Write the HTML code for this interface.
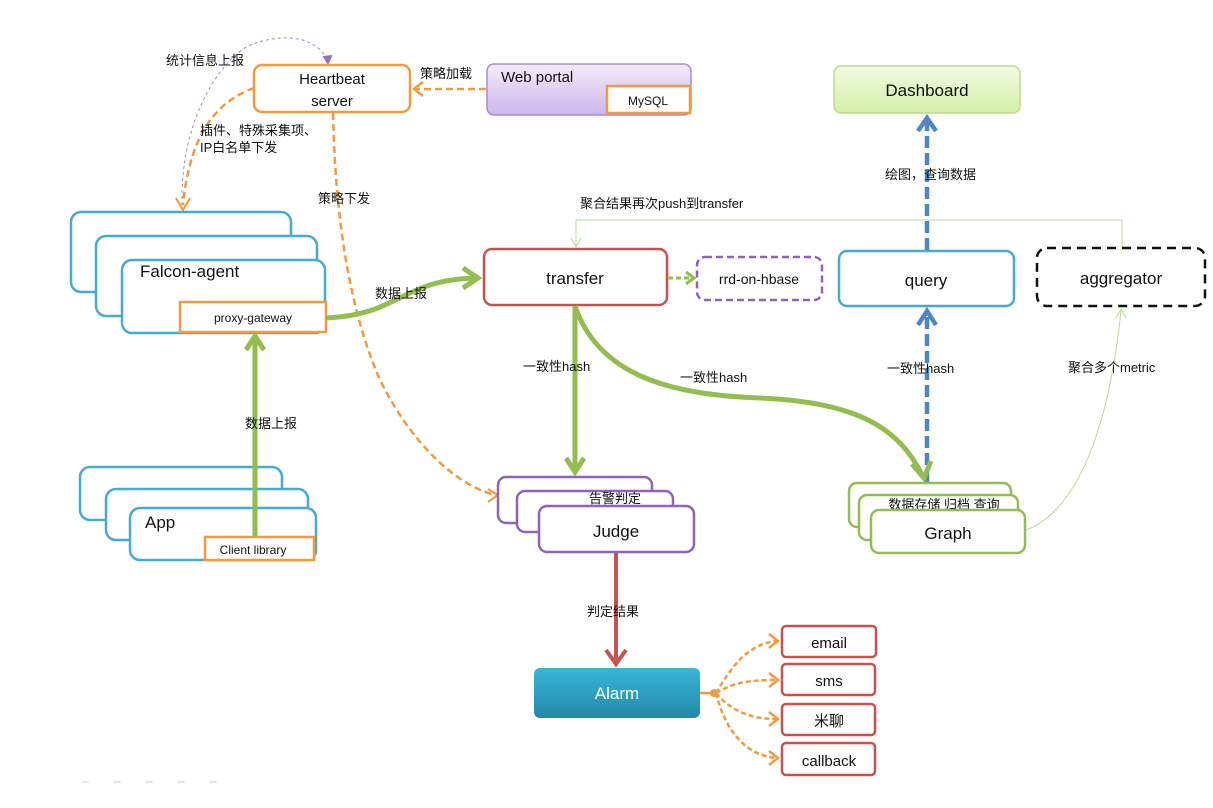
<!DOCTYPE html>
<html><head><meta charset="utf-8"><style>
html,body{margin:0;padding:0;background:#fff;}
svg{display:block;}
text{font-family:"Liberation Sans","Noto Sans CJK SC",sans-serif;fill:#111;}
.s{font-size:13px;}
</style></head><body>
<svg width="1213" height="808" viewBox="0 0 1213 808" xmlns="http://www.w3.org/2000/svg">
<defs>
<linearGradient id="wp" x1="0" y1="0" x2="0" y2="1"><stop offset="0" stop-color="#f3ecfb"/><stop offset="1" stop-color="#cdb6ec"/></linearGradient>
<linearGradient id="db" x1="0" y1="0" x2="0" y2="1"><stop offset="0" stop-color="#f2fbe4"/><stop offset="1" stop-color="#d3f0a6"/></linearGradient>
<linearGradient id="al" x1="0" y1="0" x2="0" y2="1"><stop offset="0" stop-color="#38b6d8"/><stop offset="1" stop-color="#2389a8"/></linearGradient>
</defs>

<!-- purple thin dashed curve 统计信息上报 -->
<path d="M182,205 C180,120 220,60 250,45 C290,30 320,40 328,62" fill="none" stroke="#9b86c9" stroke-width="1" stroke-dasharray="3,3"/>
<path d="M323,56 L328,64 L332,55" fill="#8e72c4" stroke="#8e72c4"/>

<!-- Heartbeat -->
<rect x="254" y="65" width="156" height="47" rx="8" fill="#fff" stroke="#f39a3c" stroke-width="2.5"/>
<text x="332" y="84" text-anchor="middle" font-size="15">Heartbeat</text>
<text x="332" y="106" text-anchor="middle" font-size="15">server</text>

<!-- Web portal -->
<rect x="487" y="64" width="204" height="51" rx="7" fill="url(#wp)" stroke="#a68dd4" stroke-width="1.5"/>
<text x="501" y="82" font-size="15">Web portal</text>
<rect x="607" y="86" width="83" height="27" fill="#fff" stroke="#f39a3c" stroke-width="2.5"/>
<text x="648" y="105" text-anchor="middle" font-size="12">MySQL</text>
<path d="M486,89 L416,89" stroke="#f39a3c" stroke-width="2.5" stroke-dasharray="7,4" fill="none"/>
<path d="M423,82 L414,89 L423,96" stroke="#f39a3c" stroke-width="2.5" fill="none"/>
<text x="420" y="78" class="s">策略加载</text>

<!-- heartbeat -> agent -->
<path d="M254,88 C220,100 190,130 183,205" stroke="#f39a3c" stroke-width="2.5" stroke-dasharray="7,4" fill="none"/>
<path d="M176,198 L183,210 L190,198" stroke="#f39a3c" stroke-width="2" fill="none"/>
<text x="166" y="65" class="s">统计信息上报</text>
<text x="200" y="135" class="s">插件、特殊采集项、</text>
<text x="200" y="152" class="s">IP白名单下发</text>

<!-- heartbeat -> judge -->
<path d="M333,113 C335,200 345,300 380,380 C420,460 470,490 496,495" stroke="#f39a3c" stroke-width="2.5" stroke-dasharray="7,4" fill="none"/>
<path d="M488,489 L498,495 L488,502" stroke="#f39a3c" stroke-width="2" fill="none"/>
<text x="318" y="203" class="s">策略下发</text>

<!-- Falcon agent stack -->
<rect x="71" y="212" width="220" height="80" rx="10" fill="#fff" stroke="#45acd0" stroke-width="2.5"/>
<rect x="96" y="236" width="221" height="80" rx="10" fill="#fff" stroke="#45acd0" stroke-width="2.5"/>
<rect x="122" y="260" width="203" height="73" rx="10" fill="#fff" stroke="#45acd0" stroke-width="2.5"/>
<text x="140" y="277" font-size="17">Falcon-agent</text>
<rect x="180" y="302" width="146" height="30" fill="#fff" stroke="#f39a3c" stroke-width="2.5"/>
<text x="253" y="322" text-anchor="middle" font-size="12">proxy-gateway</text>

<!-- App stack -->
<rect x="80" y="467" width="202" height="53" rx="10" fill="#fff" stroke="#45acd0" stroke-width="2.5"/>
<rect x="106" y="489" width="202" height="51" rx="10" fill="#fff" stroke="#45acd0" stroke-width="2.5"/>
<rect x="130" y="508" width="186" height="52" rx="10" fill="#fff" stroke="#45acd0" stroke-width="2.5"/>
<text x="145" y="528" font-size="17">App</text>
<rect x="205" y="537" width="109" height="23" fill="#fff" stroke="#f39a3c" stroke-width="2.5"/>
<text x="253" y="554" text-anchor="middle" font-size="12">Client library</text>

<!-- app -> proxy -->
<path d="M255,537 L255,340" stroke="#93bd4f" stroke-width="5" fill="none"/>
<path d="M246,350 L255,336 L264,350" stroke="#93bd4f" stroke-width="5" fill="none"/>
<text x="245" y="428" class="s">数据上报</text>

<!-- proxy -> transfer -->
<path d="M326,318 C400,315 400,280 476,278" stroke="#93bd4f" stroke-width="5" fill="none"/>
<path d="M463,268 L478,278 L463,288" stroke="#93bd4f" stroke-width="5" fill="none"/>
<text x="375" y="298" class="s">数据上报</text>

<!-- transfer -->
<rect x="484" y="249" width="183" height="56" rx="8" fill="#fff" stroke="#c9524e" stroke-width="2.5"/>
<text x="575" y="284" text-anchor="middle" font-size="17">transfer</text>

<path d="M668,278 L690,278" stroke="#93bd4f" stroke-width="3" stroke-dasharray="5,3" fill="none"/>
<path d="M686,272 L694,278 L686,284" stroke="#93bd4f" stroke-width="3" fill="none"/>
<rect x="697" y="257" width="125" height="43" rx="8" fill="#fff" stroke="#8f63bb" stroke-width="2.5" stroke-dasharray="7,4"/>
<text x="759" y="284" text-anchor="middle" font-size="14">rrd-on-hbase</text>

<!-- aggregator feedback line -->
<path d="M1122,248 L1122,220 L576,220 L576,245" stroke="#b9d99a" stroke-width="1" fill="none"/>
<path d="M571,238 L576,247 L581,238" stroke="#b9d99a" stroke-width="1" fill="none"/>
<text x="580" y="208" class="s">聚合结果再次push到transfer</text>

<!-- query -->
<rect x="839" y="251" width="175" height="55" rx="8" fill="#fff" stroke="#45acd0" stroke-width="2.5"/>
<text x="926" y="286" text-anchor="middle" font-size="17">query</text>

<!-- aggregator -->
<rect x="1037" y="248" width="168" height="58" rx="10" fill="#fff" stroke="#111" stroke-width="2.5" stroke-dasharray="9,6"/>
<text x="1121" y="284" text-anchor="middle" font-size="17">aggregator</text>

<!-- Dashboard -->
<rect x="834" y="66" width="186" height="47" rx="7" fill="url(#db)" stroke="#bcdb8c" stroke-width="1.5"/>
<text x="927" y="96" text-anchor="middle" font-size="17">Dashboard</text>

<!-- query -> dashboard -->
<path d="M927,250 L927,122" stroke="#4f86c6" stroke-width="4.5" stroke-dasharray="12,5" fill="none"/>
<path d="M918,131 L927,118 L936,131" stroke="#4f86c6" stroke-width="4.5" fill="none"/>
<text x="885" y="179" class="s">绘图，查询数据</text>

<!-- graph -> query -->
<path d="M927,482 L927,315" stroke="#4f86c6" stroke-width="4.5" stroke-dasharray="12,5" fill="none"/>
<path d="M918,325 L927,311 L936,325" stroke="#4f86c6" stroke-width="4.5" fill="none"/>
<text x="887" y="373" class="s">一致性hash</text>

<!-- transfer -> judge -->
<path d="M575,306 L575,468" stroke="#93bd4f" stroke-width="5" fill="none"/>
<path d="M566,458 L575,472 L584,458" stroke="#93bd4f" stroke-width="5" fill="none"/>
<text x="523" y="371" class="s">一致性hash</text>

<!-- transfer -> graph -->
<path d="M575,306 C600,380 680,395 760,398 C860,402 900,430 922,475" stroke="#93bd4f" stroke-width="5" fill="none"/>
<path d="M912,464 L924,478 L931,461" stroke="#93bd4f" stroke-width="5" fill="none"/>
<text x="680" y="382" class="s">一致性hash</text>

<!-- graph -> aggregator -->
<path d="M1026,530 C1080,510 1110,420 1121,310" stroke="#b9d99a" stroke-width="1" fill="none"/>
<path d="M1116,318 L1121,309 L1126,318" stroke="#b9d99a" stroke-width="1" fill="none"/>
<text x="1068" y="372" class="s">聚合多个metric</text>

<!-- Judge stack -->
<rect x="498" y="477" width="154" height="46" rx="8" fill="#fff" stroke="#8f63bb" stroke-width="2.5"/>
<rect x="517" y="491" width="156" height="41" rx="8" fill="#fff" stroke="#8f63bb" stroke-width="2.5"/>
<text x="615" y="503" text-anchor="middle" class="s">告警判定</text>
<rect x="539" y="506" width="155" height="46" rx="8" fill="#fff" stroke="#8f63bb" stroke-width="2.5"/>
<text x="616" y="537" text-anchor="middle" font-size="17">Judge</text>

<!-- Graph stack -->
<rect x="849" y="483" width="162" height="44" rx="8" fill="#fff" stroke="#93bd4f" stroke-width="2.5"/>
<rect x="859" y="495" width="159" height="45" rx="8" fill="#fff" stroke="#93bd4f" stroke-width="2.5"/>
<text x="944" y="509" text-anchor="middle" class="s">数据存储 归档 查询</text>
<rect x="871" y="510" width="154" height="43" rx="8" fill="#fff" stroke="#93bd4f" stroke-width="2.5"/>
<text x="948" y="539" text-anchor="middle" font-size="17">Graph</text>

<!-- judge -> alarm -->
<path d="M616,553 L616,660" stroke="#c9524e" stroke-width="4" fill="none"/>
<path d="M606,650 L616,664 L626,650" stroke="#c9524e" stroke-width="4" fill="none"/>
<text x="587" y="616" class="s">判定结果</text>

<!-- Alarm -->
<rect x="534" y="668" width="166" height="50" rx="6" fill="url(#al)"/>
<text x="617" y="699" text-anchor="middle" font-size="17" style="fill:#fff">Alarm</text>

<!-- alarm fanout -->
<g stroke="#f39a3c" stroke-width="2.5" fill="none">
<path d="M700,693 L716,693" />
<path d="M716,693 C730,670 745,645 776,641" stroke-dasharray="5,3"/>
<path d="M716,693 C735,682 750,680 776,680" stroke-dasharray="5,3"/>
<path d="M716,693 C730,710 750,719 776,719" stroke-dasharray="5,3"/>
<path d="M716,693 C725,730 745,755 776,758" stroke-dasharray="5,3"/>
<path d="M769,634 L778,641 L769,648"/>
<path d="M769,673 L778,680 L769,687"/>
<path d="M769,712 L778,719 L769,726"/>
<path d="M769,751 L778,758 L769,765"/>
</g>
<circle cx="714" cy="693" r="4" fill="#f39a3c"/>
<g fill="#fff" stroke="#c9524e" stroke-width="2.5">
<rect x="782" y="626" width="94" height="31" rx="4"/>
<rect x="782" y="664" width="93" height="31" rx="4"/>
<rect x="782" y="704" width="93" height="31" rx="4"/>
<rect x="782" y="743" width="93" height="32" rx="4"/>
</g>
<text x="829" y="648" text-anchor="middle" font-size="15">email</text>
<text x="829" y="686" text-anchor="middle" font-size="15">sms</text>
<text x="829" y="726" text-anchor="middle" font-size="15">米聊</text>
<text x="829" y="766" text-anchor="middle" font-size="15">callback</text>

<!-- faint dashes bottom left -->
<g stroke="#ddd" stroke-width="1.5">
<path d="M82,782 L89,782 M113,782 L121,782 M145,782 L153,782 M177,782 L185,782 M209,782 L217,782"/>
</g>
</svg>
</body></html>
